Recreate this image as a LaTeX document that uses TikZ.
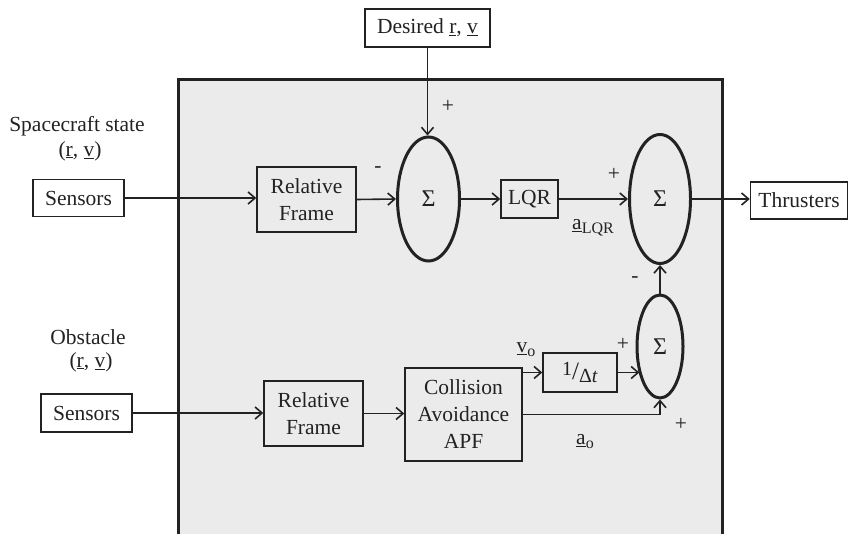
\documentclass[tikz,border=0pt]{standalone}
\usepackage{fontspec}
\setmainfont{Liberation Serif}
\usetikzlibrary{shapes.geometric,arrows.meta}
\definecolor{panel}{HTML}{EBEBEB}
\definecolor{ink}{HTML}{222222}
\tikzset{
  blk/.style={draw=ink, line width=1.5pt, inner sep=0pt, align=center, text=ink},
  sumnode/.style={ellipse, draw=ink, line width=3pt, inner sep=0pt, text=ink, font=\fontsize{24}{24}\selectfont},
  lbl/.style={inner sep=0pt, text=ink, align=center},
  arr/.style={draw=ink, line width=1.6pt, -{Straight Barb[length=7pt,width=12pt,line width=1.6pt]}}
}
\newcommand{\subsz}[1]{\raisebox{-0.4ex}{\fontsize{16}{16}\selectfont #1}}
\begin{document}
\begin{tikzpicture}[x=1pt,y=-1pt,font=\fontsize{21.5}{27}\selectfont]
\useasboundingbox (0,0) rectangle (850,534);
% panel
\fill[panel] (178,80) rectangle (722,534);
\draw[ink, line width=3pt] (178,534) -- (178,80) -- (722,80) -- (722,534);

% blocks
\node[blk, minimum width=125pt, minimum height=38pt] (des) at (427.5,28) {Desired \underline{r}, \underline{v}};
\node[blk, fill=white, minimum width=91pt, minimum height=37pt] (sen1) at (78.5,198) {Sensors};
\node[blk, fill=white, minimum width=91pt, minimum height=38pt] (sen2) at (86.5,413) {Sensors};
\node[blk, minimum width=99pt, minimum height=65pt] (rf1) at (306.5,199.5) {Relative\\Frame};
\node[blk, minimum width=99pt, minimum height=65pt] (rf2) at (313.5,413.5) {Relative\\Frame};
\node[blk, minimum width=57pt, minimum height=38pt] (lqr) at (529.5,199) {LQR};
\node[blk, fill=white, minimum width=97pt, minimum height=37pt] (thr) at (799,200.5) {Thrusters};
\node[blk, minimum width=117pt, minimum height=93pt] (apf) at (463.5,414.5) {Collision\\Avoidance\\APF};
\node[blk, minimum width=74pt, minimum height=39pt] (dt) at (580,372.5)
  {\raisebox{0.45ex}{\fontsize{20}{20}\selectfont 1}{\fontsize{25}{25}\selectfont /}\raisebox{-0.35ex}{\fontsize{20}{20}\selectfont Δ\textit{t}}};

% summing junctions
\node[sumnode, minimum width=62pt, minimum height=124pt] (s1) at (428.5,199) {Σ};
\node[sumnode, minimum width=61pt, minimum height=129pt] (s2) at (660,199) {Σ};
\node[sumnode, minimum width=46pt, minimum height=103pt] (s3) at (660,346.5) {Σ};

% text labels
\node[lbl] (scs) at (77,126) {Spacecraft state};
\node[lbl] (scrv) at (80,151) {(\underline{r}, \underline{v})};
\node[lbl] (obs) at (88,337) {Obstacle};
\node[lbl] (obrv) at (91,362) {(\underline{r}, \underline{v})};
\node[lbl] (p1) at (448,106) {+};
\node[lbl] (m1) at (378,170) {-};
\node[lbl] (p2) at (614,174) {+};
\node[lbl] (alqr) at (593,228) {\underline{a}\subsz{LQR}};
\node[lbl] (m2) at (635,280) {-};
\node[lbl] (p3) at (623,344) {+};
\node[lbl] (p4) at (681,424) {+};
\node[lbl] (vo) at (526,350) {\underline{v}\subsz{o}};
\node[lbl] (ao) at (585,442) {\underline{a}\subsz{o}};

% connectors
\draw[arr] (des.south) -- (des.south |- s1.north);
\draw[arr] (sen1.east) -- (sen1.east -| rf1.west);
\draw[arr] (rf1.east) -- (s1.west);
\draw[arr] (s1.east) -- (lqr.west);
\draw[arr] (lqr.east) -- (lqr.east -| s2.west);
\draw[arr] (s2.east) -- (s2.east -| thr.west);
\draw[arr] (sen2.east) -- (sen2.east -| rf2.west);
\draw[arr] (rf2.east) -- (rf2.east -| apf.west);
\draw[arr] (apf.east |- dt.west) -- (dt.west);
\draw[arr] (dt.east) -- (dt.east -| s3.-126);
\draw[arr] (apf.east) -| (s3.south);
\draw[arr] (s3.north) -- (s2.south);
\end{tikzpicture}
\end{document}
